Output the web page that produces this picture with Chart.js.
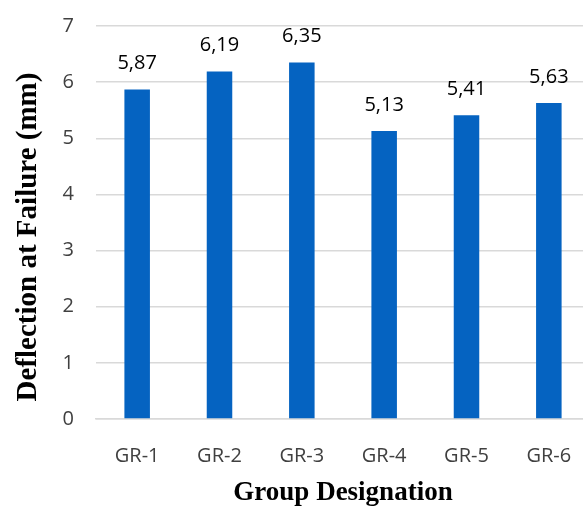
<!DOCTYPE html>
<html>
<head>
<meta charset="utf-8">
<script src="https://cdn.jsdelivr.net/npm/chart.js@4.4.1/dist/chart.umd.min.js"></script>
<style>
  html, body { margin: 0; padding: 0; background: #fff; overflow: hidden; }
  #wrap { width: 583px; height: 509px; overflow: hidden; }
</style>
</head>
<body>
<div id="wrap"><canvas id="chart" width="590" height="509"></canvas></div>
<script>
const groups = ["GR-1", "GR-2", "GR-3", "GR-4", "GR-5", "GR-6"];
const deflection = [5.87, 6.19, 6.35, 5.13, 5.41, 5.63];
const yTicks = [0, 1, 2, 3, 4, 5, 6, 7];

// values written above each bar, with decimal comma
const barLabels = {
  id: "barLabels",
  afterDatasetsDraw(chart) {
    const ctx = chart.ctx;
    const meta = chart.getDatasetMeta(0);
    ctx.save();
    ctx.font = "20px 'Open Sans', sans-serif";
    ctx.fillStyle = "#000";
    ctx.textAlign = "center";
    ctx.textBaseline = "middle";
    meta.data.forEach((bar, i) => {
      const txt = deflection[i].toFixed(2).replace(".", ",");
      ctx.fillText(txt, bar.x, bar.y - 26);
    });
    ctx.restore();
  }
};

new Chart(document.getElementById("chart").getContext("2d"), {
  type: "bar",
  data: {
    labels: groups,
    datasets: [{
      data: deflection,
      backgroundColor: "#0563C1",
      borderWidth: 0,
      barPercentage: 0.31,
      categoryPercentage: 1
    }]
  },
  options: {
    responsive: false,
    animation: false,
    layout: { padding: { top: 26, right: 0, left: 11, bottom: 0 } },
    plugins: {
      legend: { display: false },
      tooltip: { enabled: false }
    },
    scales: {
      x: {
        afterFit(scale) { scale.height = 90; },
        grid: { display: false },
        border: { color: "#d9d9d9", width: 1.5 },
        ticks: {
          color: "#404040",
          font: { family: "'Open Sans', sans-serif", size: 20 },
          padding: 17
        },
        title: {
          display: true,
          text: "Group Designation",
          color: "#000",
          font: { family: "'Liberation Serif', serif", size: 27, weight: "bold" },
          padding: 0
        }
      },
      y: {
        min: 0,
        max: 7,
        afterFit(scale) {
          scale.width = 85;
          scale.paddingTop = 0;
          scale.paddingBottom = 0;
        },
        afterBuildTicks(axis) { axis.ticks = yTicks.map(v => ({ value: v })); },
        grid: { color: "#d9d9d9", lineWidth: 1.5, drawTicks: false },
        border: { display: false },
        ticks: {
          color: "#404040",
          font: { family: "'Open Sans', sans-serif", size: 20 },
          padding: 22
        },
        title: {
          display: true,
          // trailing spaces push the rotated title down a little, as in the original
          text: "Deflection at Failure (mm)\u00a0\u00a0\u00a0\u00a0",
          color: "#000",
          font: { family: "'Liberation Serif', serif", size: 29, weight: "bold" },
          padding: 0
        }
      }
    }
  },
  plugins: [barLabels]
});
</script>
</body>
</html>
